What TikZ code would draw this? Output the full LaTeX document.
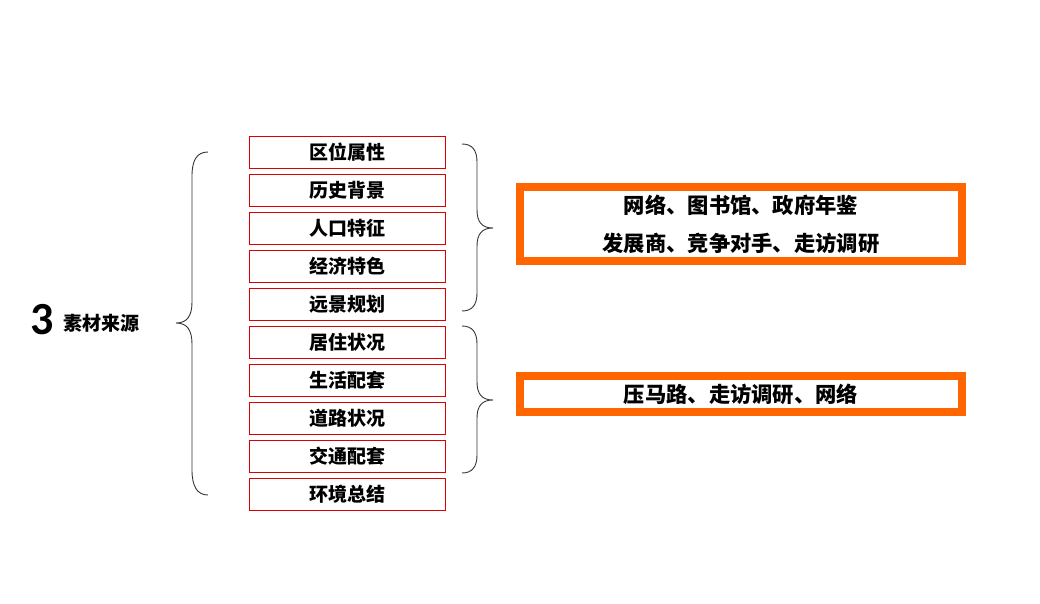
\documentclass[tikz,border=0pt]{standalone}
\usepackage{fontspec}
\setmainfont{Noto Sans CJK SC}
\newfontfamily\numfont{Carlito}
\definecolor{boxred}{RGB}{220,0,0}
\definecolor{orng}{HTML}{FF6600}
\begin{document}
\begin{tikzpicture}[x=1pt,y=-1pt,
  itembox/.style={draw=boxred,line width=1pt,minimum width=196pt,minimum height=32pt,inner sep=0pt,font=\fontsize{19}{22}\selectfont\bfseries},
  srcbox/.style={draw=orng,line width=8pt,inner sep=0pt,font=\fontsize{21.3}{38}\selectfont\bfseries,align=center},
  brace/.style={draw=black!80,line width=0.9pt}]
\useasboundingbox (0,0) rectangle (1040,604);
\foreach \t [count=\i from 0] in {区位属性,历史背景,人口特征,经济特色,远景规划,居住状况,生活配套,道路状况,交通配套,环境总结}{
  \node[itembox] (b\i) at (347.5,{152.5+38*\i}) {\t};
}
\node[anchor=west,inner sep=0pt] (num) at (30,320) {\numfont\fontsize{46}{48}\selectfont\bfseries 3};
\node[anchor=west,inner sep=0pt] (title) at (63,323) {\fontsize{19}{22}\selectfont\bfseries 素材来源};
% left brace
\coordinate (lt) at (208,152);
\coordinate (lm) at (176,323);
\coordinate (lb) at (208,495);
\draw[brace] (lt) .. controls (197,152) and (192,160) .. (192,176) -- (192,302) .. controls (192,316) and (187,323) .. (lm)
  .. controls (187,323) and (192,330) .. (192,344) -- (192,470) .. controls (192,486) and (197,495) .. (lb);
% right brace 1
\coordinate (r1t) at (462,144);
\coordinate (r1m) at (493,228);
\coordinate (r1b) at (462,311);
\draw[brace] (r1t) .. controls (472,144) and (477,150) .. (477,162) -- (477,210) .. controls (477,222) and (482,228) .. (r1m)
  .. controls (482,228) and (477,234) .. (477,246) -- (477,293) .. controls (477,305) and (472,311) .. (r1b);
% right brace 2
\coordinate (r2t) at (462,326);
\coordinate (r2m) at (493,400);
\coordinate (r2b) at (462,473);
\draw[brace] (r2t) .. controls (472,326) and (477,332) .. (477,344) -- (477,382) .. controls (477,394) and (482,400) .. (r2m)
  .. controls (482,400) and (477,406) .. (477,418) -- (477,455) .. controls (477,467) and (472,473) .. (r2b);
% source boxes
\node[srcbox,minimum width=442pt,minimum height=74pt] (s1) at (741,224) {网络、图书馆、政府年鉴\\发展商、竞争对手、走访调研};
\node[srcbox,minimum width=442pt,minimum height=36pt] (s2) at (741,394) {压马路、走访调研、网络};
\end{tikzpicture}
\end{document}
